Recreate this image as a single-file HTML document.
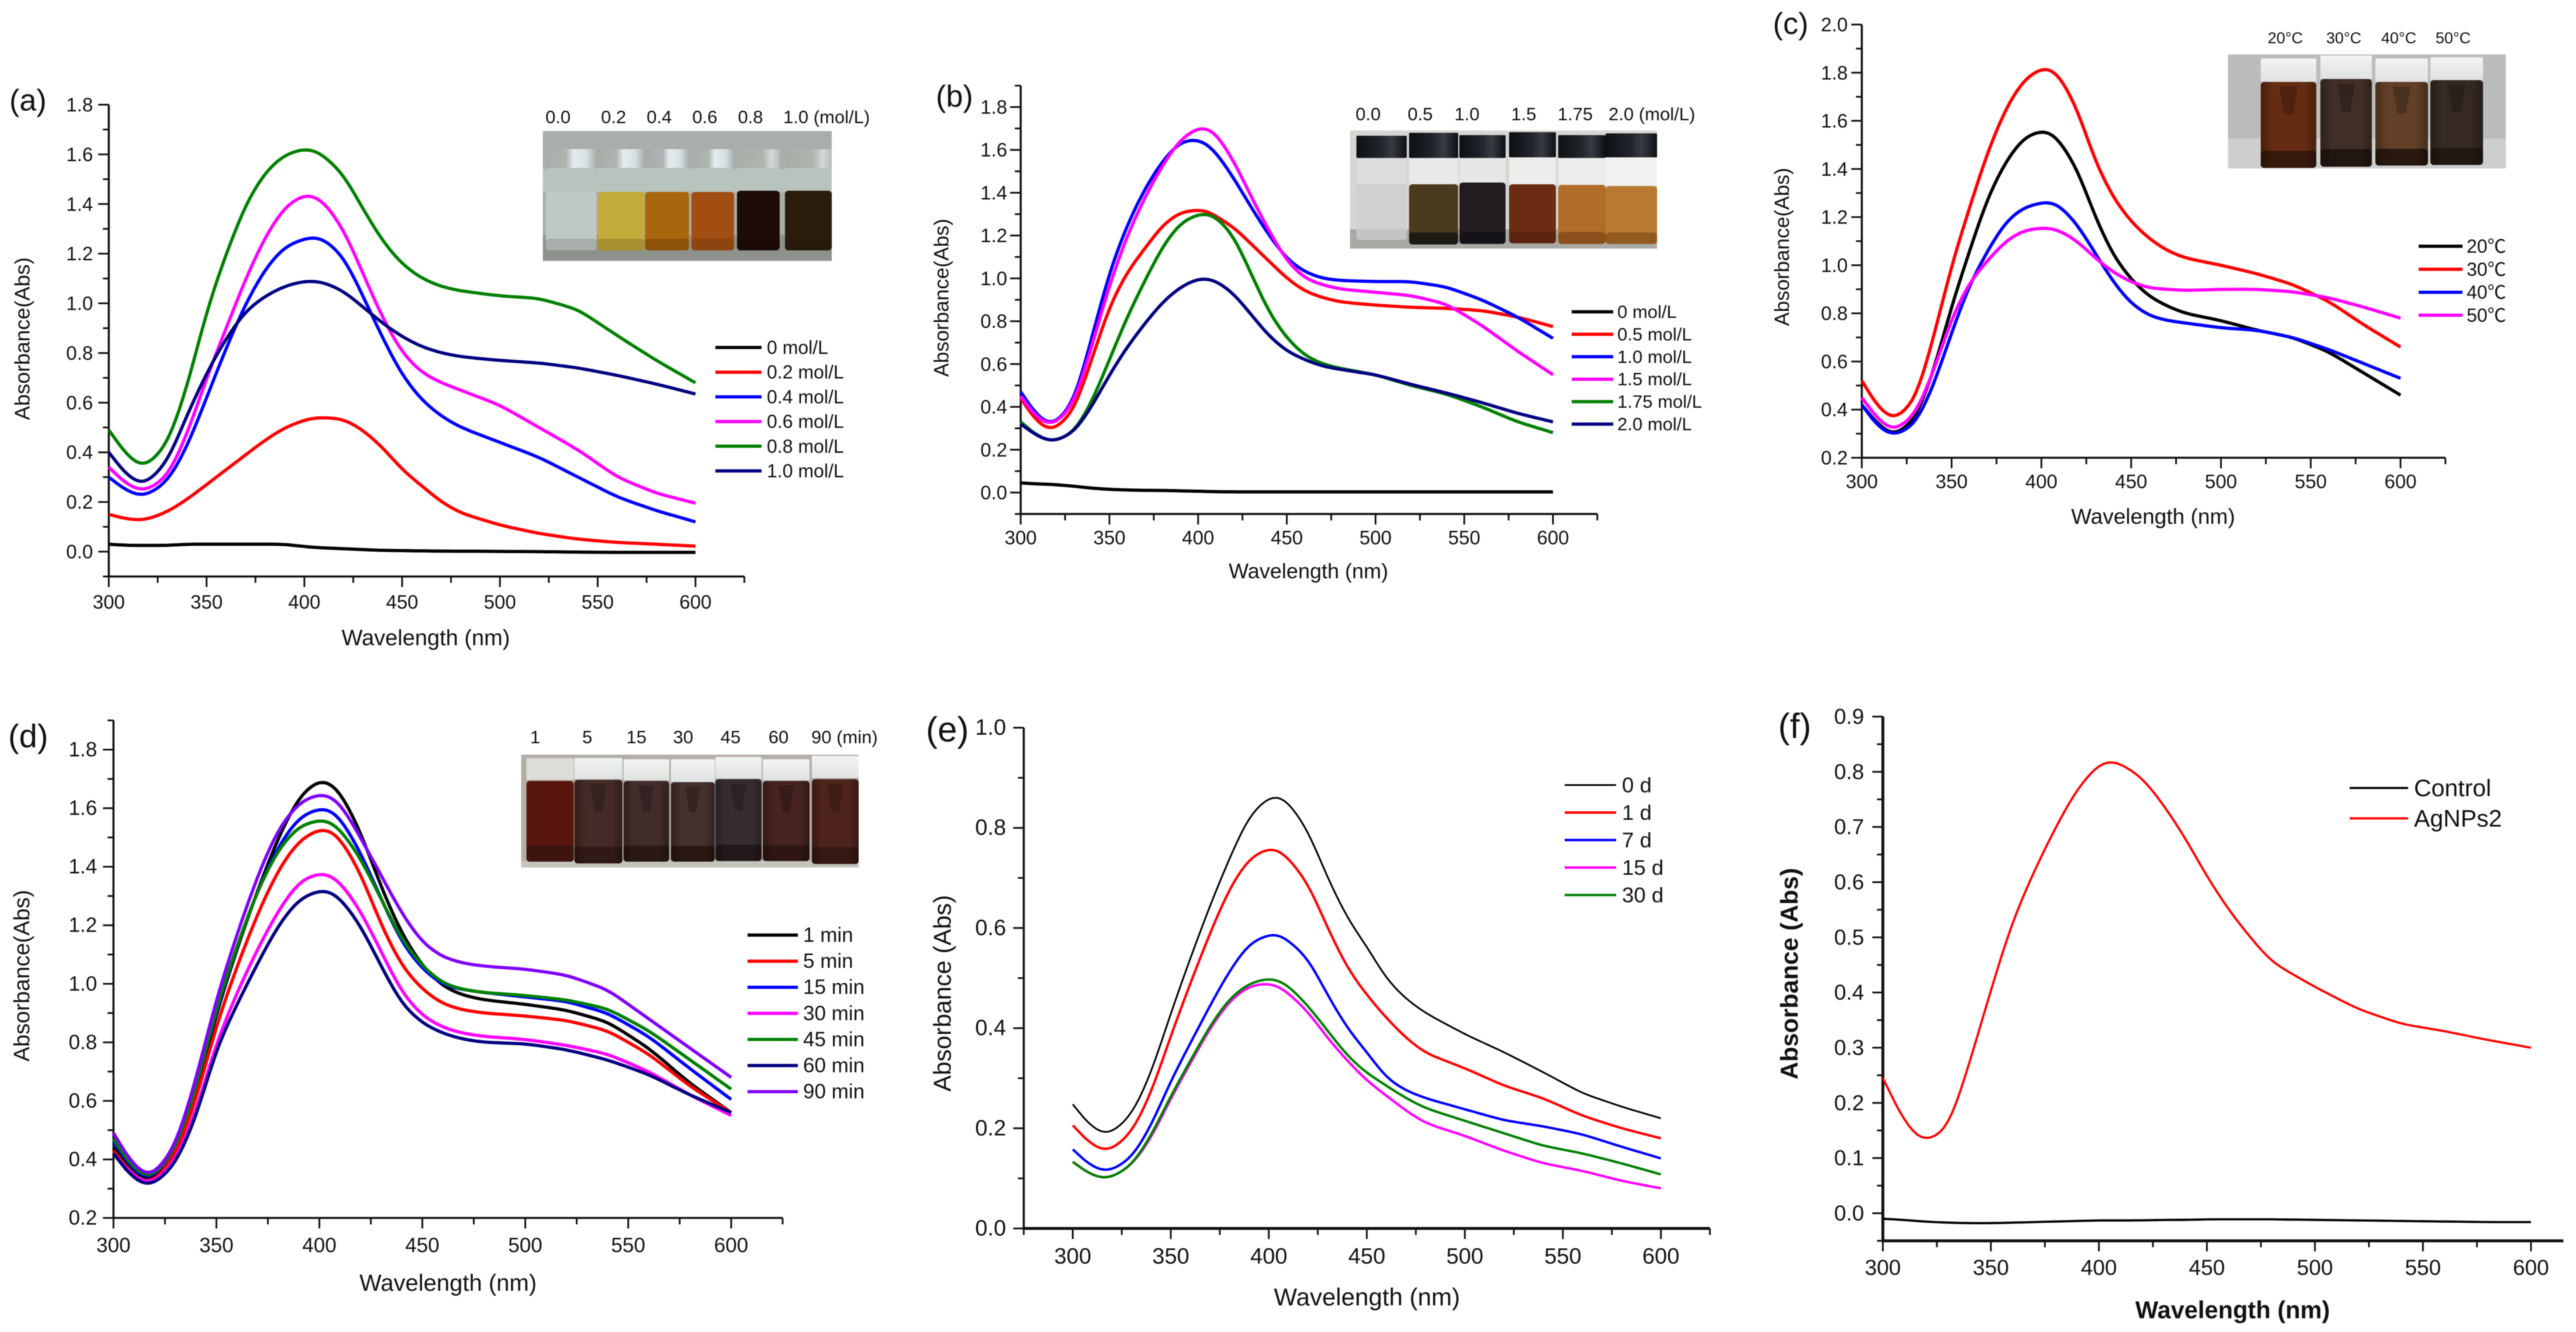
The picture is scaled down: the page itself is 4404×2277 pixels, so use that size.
<!DOCTYPE html>
<html lang="en">
<head>
<meta charset="utf-8">
<title>Absorbance spectra panels</title>
<style>
html,body{margin:0;padding:0;background:#fff;width:4404px;height:2277px;overflow:hidden}
svg{display:block;filter:blur(0.9px)}
text{font-family:"Liberation Sans","Noto Sans CJK SC",sans-serif;fill:#111}
.insetlabel{font-size:31px}
</style>
</head>
<body>
<svg id="figure" xmlns="http://www.w3.org/2000/svg" width="4404" height="2277" viewBox="0 0 4404 2277">
<defs>
<linearGradient id="capHighlight" x1="0" y1="0" x2="1" y2="0"><stop offset="0" stop-color="#a6aca8"/><stop offset=".4" stop-color="#aeb4b0"/><stop offset=".55" stop-color="#e4ecf0"/><stop offset=".8" stop-color="#d8e0e2"/><stop offset="1" stop-color="#a6aca8"/></linearGradient>
<linearGradient id="capDull" x1="0" y1="0" x2="1" y2="0"><stop offset="0" stop-color="#a8aca6"/><stop offset=".6" stop-color="#b0b4ae"/><stop offset=".8" stop-color="#d4d8d6"/><stop offset="1" stop-color="#b8bcb8"/></linearGradient>
<linearGradient id="capBlack" x1="0" y1="0" x2="1" y2="0"><stop offset="0" stop-color="#0c1014"/><stop offset=".5" stop-color="#22262c"/><stop offset=".7" stop-color="#383c42"/><stop offset="1" stop-color="#0c1014"/></linearGradient>
<linearGradient id="capWhite" x1="0" y1="0" x2="0" y2="1"><stop offset="0" stop-color="#f2f4f2"/><stop offset="1" stop-color="#dfe2e0"/></linearGradient>
<linearGradient id="sideShade" x1="0" y1="0" x2="1" y2="0"><stop offset="0" stop-color="#000" stop-opacity=".35"/><stop offset=".22" stop-color="#000" stop-opacity=".08"/><stop offset=".78" stop-color="#000" stop-opacity=".08"/><stop offset="1" stop-color="#000" stop-opacity=".35"/></linearGradient>
</defs>

<g id="insetA"></g>
<g id="insetB"></g>
<g id="insetC"></g>
<g id="insetD"></g>

<g>
<text class="insetlabel" x="954" y="200" text-anchor="middle" dominant-baseline="central">0.0</text>
<text class="insetlabel" x="1049" y="200" text-anchor="middle" dominant-baseline="central">0.2</text>
<text class="insetlabel" x="1127" y="200" text-anchor="middle" dominant-baseline="central">0.4</text>
<text class="insetlabel" x="1205" y="200" text-anchor="middle" dominant-baseline="central">0.6</text>
<text class="insetlabel" x="1283" y="200" text-anchor="middle" dominant-baseline="central">0.8</text>
<text class="insetlabel" x="1339" y="200" dominant-baseline="central">1.0 (mol/L)</text>
</g>
<g>
<text class="insetlabel" x="2339" y="195" text-anchor="middle" dominant-baseline="central">0.0</text>
<text class="insetlabel" x="2428" y="195" text-anchor="middle" dominant-baseline="central">0.5</text>
<text class="insetlabel" x="2508" y="195" text-anchor="middle" dominant-baseline="central">1.0</text>
<text class="insetlabel" x="2605" y="195" text-anchor="middle" dominant-baseline="central">1.5</text>
<text class="insetlabel" x="2693" y="195" text-anchor="middle" dominant-baseline="central">1.75</text>
<text class="insetlabel" x="2750" y="195" dominant-baseline="central">2.0 (mol/L)</text>
</g>
<g>
<text x="3907" y="65" font-size="27" text-anchor="middle" dominant-baseline="central">20°C</text>
<text x="4007" y="65" font-size="27" text-anchor="middle" dominant-baseline="central">30°C</text>
<text x="4101" y="65" font-size="27" text-anchor="middle" dominant-baseline="central">40°C</text>
<text x="4194" y="65" font-size="27" text-anchor="middle" dominant-baseline="central">50°C</text>
</g>
<g>
<text class="insetlabel" x="915" y="1260" text-anchor="middle" dominant-baseline="central">1</text>
<text class="insetlabel" x="1004" y="1260" text-anchor="middle" dominant-baseline="central">5</text>
<text class="insetlabel" x="1088" y="1260" text-anchor="middle" dominant-baseline="central">15</text>
<text class="insetlabel" x="1168" y="1260" text-anchor="middle" dominant-baseline="central">30</text>
<text class="insetlabel" x="1249" y="1260" text-anchor="middle" dominant-baseline="central">45</text>
<text class="insetlabel" x="1331" y="1260" text-anchor="middle" dominant-baseline="central">60</text>
<text class="insetlabel" x="1387" y="1260" dominant-baseline="central">90 (min)</text>
</g>
</svg>

<script>
// Shared sample wavelengths (nm) read for every curve
const wavelengths = [300,310,318,330,340,350,360,370,380,390,400,405,410,420,430,440,450,460,470,480,500,520,540,560,580,600];
const xTickLabels = [300,350,400,450,500,550,600];

// Panel (a)
const aLabels = ['0 mol/L','0.2 mol/L','0.4 mol/L','0.6 mol/L','0.8 mol/L','1.0 mol/L'];
const aYTicks = ['0.0','0.2','0.4','0.6','0.8','1.0','1.2','1.4','1.6','1.8'];
const a0 = [.03,.025,.025,.025,.03,.03,.03,.03,.03,.03,.02,.017,.015,.012,.008,.005,.004,.003,.002,.002,.001,0,-.002,-.003,-.003,-.003];
const a02 = [.15,.13,.125,.16,.21,.27,.33,.39,.45,.50,.53,.54,.54,.535,.49,.42,.33,.265,.20,.155,.107,.073,.05,.037,.03,.022];
const a04 = [.30,.24,.22,.28,.42,.62,.82,1.0,1.14,1.23,1.26,1.27,1.26,1.19,1.03,.86,.71,.61,.545,.50,.44,.38,.30,.22,.165,.12];
const a06 = [.34,.265,.24,.30,.47,.70,.90,1.10,1.27,1.39,1.44,1.435,1.41,1.30,1.12,.94,.80,.72,.68,.65,.59,.50,.41,.30,.235,.195];
const a08 = [.49,.38,.335,.43,.66,.97,1.2,1.40,1.53,1.60,1.623,1.62,1.595,1.52,1.38,1.25,1.157,1.10,1.067,1.05,1.03,1.02,.975,.87,.77,.68];
const a10 = [.40,.30,.265,.36,.55,.72,.86,.97,1.03,1.07,1.09,1.09,1.085,1.05,.985,.92,.865,.825,.80,.785,.77,.76,.74,.71,.675,.635];

// Panel (b)
const bLabels = ['0 mol/L','0.5 mol/L','1.0 mol/L','1.5 mol/L','1.75 mol/L','2.0 mol/L'];
const bYTicks = ['0.0','0.2','0.4','0.6','0.8','1.0','1.2','1.4','1.6','1.8'];
const b0 = [.045,.04,.038,.03,.02,.015,.012,.01,.01,.008,.006,.005,.004,.003,.003,.003,.003,.003,.003,.003,.003,.003,.003,.003,.003,.003];
const b05 = [.44,.32,.285,.38,.62,.87,1.03,1.14,1.25,1.31,1.32,1.32,1.29,1.24,1.16,1.08,1.0,.94,.91,.89,.875,.865,.86,.85,.82,.775];
const b10 = [.47,.35,.31,.42,.72,1.03,1.25,1.42,1.55,1.64,1.65,1.63,1.59,1.47,1.33,1.2,1.09,1.03,1.0,.99,.985,.985,.96,.90,.82,.72];
const b15 = [.45,.34,.31,.41,.68,.97,1.2,1.38,1.53,1.65,1.705,1.705,1.68,1.55,1.38,1.22,1.08,1.0,.97,.95,.935,.92,.88,.78,.66,.55];
const b175 = [.33,.26,.235,.28,.42,.62,.82,.99,1.15,1.26,1.3,1.305,1.29,1.2,1.02,.84,.72,.64,.6,.58,.55,.50,.46,.40,.33,.28];
const b20 = [.32,.26,.235,.28,.40,.55,.68,.79,.89,.96,1.0,1.0,.99,.93,.83,.73,.66,.62,.59,.575,.55,.505,.465,.42,.37,.33];

// Panel (c)
const cLabels = ['20℃','30℃','40℃','50℃'];
const cYTicks = ['0.2','0.4','0.6','0.8','1.0','1.2','1.4','1.6','1.8','2.0'];
const c20 = [.42,.33,.29,.36,.56,.83,1.06,1.28,1.43,1.53,1.56,1.555,1.52,1.40,1.20,1.04,.94,.87,.83,.80,.77,.73,.70,.64,.55,.46];
const c30 = [.52,.40,.355,.44,.70,1.0,1.24,1.47,1.65,1.77,1.82,1.82,1.79,1.65,1.43,1.28,1.18,1.11,1.06,1.03,1.0,.965,.92,.85,.75,.66];
const c40 = [.42,.32,.29,.34,.5,.72,.92,1.06,1.18,1.24,1.26,1.265,1.25,1.17,1.05,.93,.84,.79,.77,.76,.74,.73,.70,.65,.59,.53];
const c50 = [.45,.35,.31,.38,.56,.78,.93,1.02,1.10,1.145,1.155,1.155,1.145,1.10,1.03,.97,.93,.905,.90,.895,.90,.90,.89,.865,.825,.78];

// Panel (d)
const dLabels = ['1 min','5 min','15 min','30 min','45 min','60 min','90 min'];
const dYTicks = ['0.2','0.4','0.6','0.8','1.0','1.2','1.4','1.6','1.8'];
const d1 = [.44,.35,.32,.42,.63,.90,1.12,1.32,1.5,1.64,1.70,1.69,1.66,1.52,1.33,1.17,1.06,.99,.96,.945,.93,.91,.87,.78,.66,.56];
const d5 = [.43,.34,.31,.41,.60,.86,1.06,1.24,1.39,1.49,1.53,1.53,1.50,1.38,1.20,1.06,.98,.93,.91,.90,.89,.875,.84,.76,.65,.56];
const d15 = [.46,.36,.325,.43,.64,.91,1.13,1.32,1.47,1.57,1.6,1.6,1.57,1.45,1.29,1.14,1.05,.995,.98,.97,.955,.94,.90,.82,.71,.605];
const d30 = [.42,.34,.31,.39,.56,.80,.97,1.12,1.25,1.35,1.38,1.375,1.35,1.25,1.11,.97,.89,.85,.83,.82,.81,.79,.76,.70,.62,.55];
const d45 = [.47,.365,.33,.43,.64,.92,1.13,1.32,1.46,1.54,1.56,1.56,1.53,1.43,1.29,1.15,1.06,1.0,.98,.97,.96,.945,.915,.84,.74,.64];
const d60 = [.42,.33,.305,.38,.54,.78,.93,1.07,1.20,1.29,1.32,1.32,1.295,1.2,1.06,.93,.865,.83,.81,.80,.795,.775,.74,.69,.62,.56];
const d90 = [.49,.375,.335,.44,.67,.95,1.17,1.37,1.53,1.62,1.65,1.645,1.62,1.5,1.37,1.24,1.14,1.09,1.07,1.06,1.05,1.03,.98,.88,.78,.68];

// Panel (e)
const eLabels = ['0 d','1 d','7 d','15 d','30 d'];
const eYTicks = ['0.0','0.2','0.4','0.6','0.8','1.0'];
const e0 = [.248,.20,.185,.225,.31,.43,.54,.645,.74,.825,.862,.866,.852,.795,.70,.62,.563,.498,.458,.43,.388,.352,.312,.27,.243,.22];
const e1 = [.206,.165,.152,.19,.27,.385,.49,.59,.68,.74,.76,.758,.74,.69,.60,.52,.466,.42,.38,.35,.32,.285,.26,.225,.20,.18];
const e7 = [.158,.122,.112,.14,.205,.295,.37,.445,.515,.57,.587,.59,.575,.54,.466,.40,.352,.30,.275,.26,.238,.216,.204,.188,.163,.14];
const e15 = [.133,.105,.098,.125,.18,.26,.33,.40,.455,.485,.49,.485,.47,.433,.38,.335,.295,.265,.235,.21,.185,.155,.13,.115,.095,.08];
const e30 = [.133,.105,.098,.125,.185,.265,.335,.405,.46,.49,.50,.497,.485,.445,.395,.345,.31,.285,.26,.24,.215,.19,.165,.15,.13,.108];

// Panel (f)
const fLabels = ['Control','AgNPs2'];
const fYTicks = ['0.0','0.1','0.2','0.3','0.4','0.5','0.6','0.7','0.8','0.9'];
const fControl = [-.01,-.012,-.015,-.017,-.018,-.018,-.017,-.016,-.015,-.014,-.013,-.013,-.013,-.013,-.012,-.012,-.011,-.011,-.011,-.011,-.012,-.013,-.014,-.015,-.016,-.016];
const fAgNPs = [.245,.165,.128,.15,.27,.405,.53,.62,.70,.77,.815,.822,.815,.79,.74,.68,.61,.55,.50,.455,.41,.37,.343,.33,.314,.30];

const cBlack='#000', cRed='#ff0000', cBlue='#0000ff', cMag='#ff00ff', cGreen='#008000', cNavy='#000080', cPurple='#8000ff';

const panels = [
 {id:'a',letter:'(a)',letterX:16,letterY:172,letterSize:52,letterWeight:400,
  x0:186,x600:1189,xMin:300,xMax:625,y0v:0,y0:943,y1v:1.8,y1:179,yMin:-.1,yMax:1.8,yStep:.2,
  yTicks:aYTicks,yLabelRight:159,xTickY:1029,tickSize:33,
  xTitle:'Wavelength (nm)',xTitleX:728,xTitleY:1091,xTitleSize:38,
  yTitle:'Absorbance(Abs)',yTitleX:38,yTitleY:579,yTitleSize:36,titleWeight:400,
  series:[a0,a02,a04,a06,a08,a10],labels:aLabels,colors:[cBlack,cRed,cBlue,cMag,cGreen,cNavy],lw:5.5,
  legendX0:1223,legendX1:1302,legendTextX:1311,legendTop:594,legendGap:42.2,legendSize:32},
 {id:'b',letter:'(b)',letterX:1600,letterY:165,letterSize:52,letterWeight:400,
  x0:1745,x600:2655,xMin:300,xMax:625,y0v:0,y0:842,y1v:1.8,y1:183,yMin:-.1,yMax:1.9,yStep:.2,
  yTicks:bYTicks,yLabelRight:1722,xTickY:919,tickSize:33,
  xTitle:'Wavelength (nm)',xTitleX:2237,xTitleY:976,xTitleSize:36,
  yTitle:'Absorbance(Abs)',yTitleX:1610,yTitleY:509,yTitleSize:35,titleWeight:400,
  series:[b0,b05,b10,b15,b175,b20],labels:bLabels,colors:[cBlack,cRed,cBlue,cMag,cGreen,cNavy],lw:5.5,
  legendX0:2687,legendX1:2758,legendTextX:2765,legendTop:533,legendGap:38.4,legendSize:31},
 {id:'c',letter:'(c)',letterX:3031,letterY:41,letterSize:52,letterWeight:400,
  x0:3183,x600:4104,xMin:300,xMax:625,y0v:.2,y0:782.5,y1v:2.0,y1:42,yMin:.2,yMax:2.0,yStep:.2,
  yTicks:cYTicks,yLabelRight:3159,xTickY:823,tickSize:33,
  xTitle:'Wavelength (nm)',xTitleX:3681,xTitleY:883,xTitleSize:37,
  yTitle:'Absorbance(Abs)',yTitleX:3047,yTitleY:422,yTitleSize:35,titleWeight:400,
  series:[c20,c30,c40,c50],labels:cLabels,colors:[cBlack,cRed,cBlue,cMag],lw:5.5,
  legendX0:4135,legendX1:4210,legendTextX:4217,legendTop:421,legendGap:39.3,legendSize:32},
 {id:'d',letter:'(d)',letterX:14,letterY:1258,letterSize:56,letterWeight:400,
  x0:194,x600:1250,xMin:300,xMax:625,y0v:.2,y0:2082,y1v:1.8,y1:1281.5,yMin:.2,yMax:1.9,yStep:.2,
  yTicks:dYTicks,yLabelRight:166,xTickY:2129,tickSize:35,
  xTitle:'Wavelength (nm)',xTitleX:766,xTitleY:2193.5,xTitleSize:40,
  yTitle:'Absorbance(Abs)',yTitleX:38,yTitleY:1668,yTitleSize:38,titleWeight:400,
  series:[d1,d5,d15,d30,d45,d60,d90],labels:dLabels,colors:[cBlack,cRed,cBlue,cMag,cGreen,cNavy,cPurple],lw:5.5,
  legendX0:1278,legendX1:1364,legendTextX:1373,legendTop:1598.5,legendGap:44.6,legendSize:35},
 {id:'e',letter:'(e)',letterX:1583,letterY:1247,letterSize:60,letterWeight:400,
  x0:1834,x600:2839.5,xMin:275,xMax:625,y0v:0,y0:2100,y1v:1,y1:1244,yMin:0,yMax:1,yStep:.2,
  yTicks:eYTicks,yLabelRight:1720,xTickY:2148,tickSize:38,
  xTitle:'Wavelength (nm)',xTitleX:2337,xTitleY:2217,xTitleSize:42,
  yTitle:'Absorbance (Abs)',yTitleX:1611,yTitleY:1698,yTitleSize:42,titleWeight:400,
  series:[e0,e1,e7,e15,e30],labels:eLabels,colors:[cBlack,cRed,cBlue,cMag,cGreen],lw:4.2,firstLw:3,
  legendX0:2675,legendX1:2763,legendTextX:2773,legendTop:1342,legendGap:47,legendSize:36.5,xAxisWidth:5},
 {id:'f',letter:'(f)',letterX:3040,letterY:1241,letterSize:60,letterWeight:400,
  x0:3219,x600:4327,xMin:300,xMax:615,y0v:0,y0:2074,y1v:.9,y1:1225,yMin:-.05,yMax:.9,yStep:.1,
  yTicks:fYTicks,yLabelRight:3187,xTickY:2167,tickSize:37,
  xTitle:'Wavelength (nm)',xTitleX:3817,xTitleY:2239,xTitleSize:41.5,
  yTitle:'Absorbance (Abs)',yTitleX:3059,yTitleY:1664.5,yTitleSize:42,titleWeight:700,
  series:[fControl,fAgNPs],labels:fLabels,colors:[cBlack,cRed],lw:3.8,
  legendX0:4017,legendX1:4117,legendTextX:4127,legendTop:1347,legendGap:52,legendSize:41,xAxisWidth:5}
];

const SVGNS='http://www.w3.org/2000/svg';
const figure=document.getElementById('figure');

function linearScale(d0,d1,r0,r1){
  return function(v){return r0+(v-d0)*(r1-r0)/(d1-d0);};
}
function make(parent,tag,attrs,text){
  const el=document.createElementNS(SVGNS,tag);
  for(const k in attrs){el.setAttribute(k,attrs[k]);}
  if(text!==undefined){el.textContent=text;}
  parent.appendChild(el);
  return el;
}

// Inset photo pieces
function photoBack(parent,x,y,w,h,fill,floorY,floorFill){
  make(parent,'rect',{x:x,y:y,width:w,height:h,fill:fill});
  make(parent,'rect',{x:x,y:floorY,width:w,height:y+h-floorY,fill:floorFill});
}
function drawVial(parent,name,x,w,capTop,capBottom,capFill,neckFill,liquidTop,liquidBottom,liquidFill,baseFill,shade){
  const g=make(parent,'g',{});
  
  
  make(g,'rect',{x:x,y:capBottom,width:w,height:Math.max(0,liquidTop-capBottom),fill:neckFill});
  make(g,'rect',{x:x,y:liquidTop,width:w,height:liquidBottom-liquidTop,fill:liquidFill,rx:6});
  make(g,'rect',{x:x,y:liquidBottom-(liquidBottom-liquidTop)*0.2,width:w,height:(liquidBottom-liquidTop)*0.2,fill:baseFill,rx:6});
  if(shade){
    make(g,'rect',{x:x,y:liquidTop,width:w,height:liquidBottom-liquidTop,fill:'url(#sideShade)',rx:6});
    make(g,'path',{d:'M'+(x+w*.33)+' '+(liquidTop+8)+' L'+(x+w*.67)+' '+(liquidTop+8)+' L'+(x+w*.58)+' '+(liquidTop+(liquidBottom-liquidTop)*.38)+' L'+(x+w*.42)+' '+(liquidTop+(liquidBottom-liquidTop)*.38)+' Z',fill:'#000','fill-opacity':.22});
  }
  make(g,'rect',{x:x,y:capTop,width:w,height:capBottom-capTop,fill:capFill,rx:2});
}

const insetA=document.getElementById('insetA');
photoBack(insetA,928,224,494,222,'#a8aeaa',402,'#8e928c');
make(insetA,'rect',{x:928,y:290,width:494,height:38,fill:'#b9c3be'});
drawVial(insetA,'vial-0-0',933,87,255,287,'url(#capHighlight)','#b9c3be',328,428,'#c0c8c4','#a8aeaa',false);
drawVial(insetA,'vial-0-2',1022,80,255,287,'url(#capHighlight)','#b9c3be',328,428,'#c4ac3c','#a89030',false);
drawVial(insetA,'vial-0-4',1103,75,255,287,'url(#capHighlight)','#b9c3be',328,428,'#a8660e','#8e5208',false);
drawVial(insetA,'vial-0-6',1182,73,255,287,'url(#capHighlight)','#b9c3be',328,428,'#a24e12','#8e4410',false);
drawVial(insetA,'vial-0-8',1260,73,255,287,'url(#capDull)','#b9c3be',326,428,'#1e0c08','#1c0a06',false);
drawVial(insetA,'vial-1-0',1342,80,255,287,'url(#capDull)','#b9c3be',326,428,'#2a1c0c','#281a0c',false);

const insetB=document.getElementById('insetB');
photoBack(insetB,2308,223,525,202,'#d6d6d2',392,'#a8a8a4');
drawVial(insetB,'vial-b-0-0',2319,86,232,270,'url(#capBlack)','#dcdcdc',315,410,'#d0d0d0','#c4c4c4',false);
drawVial(insetB,'vial-b-0-5',2409,84,227,270,'url(#capBlack)','#e8eae8',315,418,'#4a3a1e','#1c1a12',false);
drawVial(insetB,'vial-b-1-0',2495,79,231,270,'url(#capBlack)','#e6e8e6',312,417,'#221c20','#15131a',false);
drawVial(insetB,'vial-b-1-5',2580,80,226,269,'url(#capBlack)','#ecedec',315,416,'#6c2c14','#5c2410',false);
drawVial(insetB,'vial-b-1-75',2664,81,231,270,'url(#capBlack)','#eceeec',316,417,'#b06c28','#8a4f1a',false);
drawVial(insetB,'vial-b-2-0',2745,88,228,269,'url(#capBlack)','#f2f2f0',318,417,'#b87a30','#92591e',false);

const insetC=document.getElementById('insetC');
photoBack(insetC,3809,93,475,195,'#bcbcbc',237,'#cecece');
drawVial(insetC,'vial-c-20',3865,95,100,140,'url(#capWhite)','#dcdcdc',140,287,'#6e3014','#3c1c0c',true);
drawVial(insetC,'vial-c-30',3967,88,95,135,'url(#capWhite)','#dcdcdc',135,285,'#453329','#241812',true);
drawVial(insetC,'vial-c-40',4061,90,100,140,'url(#capWhite)','#dcdcdc',140,283,'#69452a','#2c1a10',true);
drawVial(insetC,'vial-c-50',4155,90,98,137,'url(#capWhite)','#dcdcdc',137,282,'#3a2c26','#241a14',true);

const insetD=document.getElementById('insetD');
photoBack(insetD,891,1290,577,193,'#b5aea8',1472,'#c4c4bc');
drawVial(insetD,'vial-d-1',900,81,1296,1333,'#dcdcd8','#b5aea8',1335,1473,'#58160e','#3e1410',false);
drawVial(insetD,'vial-d-5',982,82,1296,1332,'url(#capWhite)','#b5aea8',1333,1476,'#4a2e2a','#351c18',true);
drawVial(insetD,'vial-d-15',1066,78,1298,1334,'url(#capWhite)','#b5aea8',1335,1473,'#46302e','#2e1a16',true);
drawVial(insetD,'vial-d-30',1147,75,1298,1337,'url(#capWhite)','#b5aea8',1337,1473,'#4a3430','#2e1a16',true);
drawVial(insetD,'vial-d-45',1223,79,1294,1331,'url(#capWhite)','#b5aea8',1332,1472,'#3a3034','#261a1c',true);
drawVial(insetD,'vial-d-60',1304,80,1298,1334,'url(#capWhite)','#b5aea8',1335,1472,'#4c2622','#331814',true);
drawVial(insetD,'vial-d-90',1388,80,1292,1330,'url(#capWhite)','#b5aea8',1332,1477,'#56261f','#3a1a16',true);

// Curve path: read values joined, then lightly smoothed in wavelength
function interpolateAt(xs,ys,x){
  let i=0;
  while(i<xs.length-2 && x>xs[i+1]){i++;}
  return ys[i]+(ys[i+1]-ys[i])*(x-xs[i])/(xs[i+1]-xs[i]);
}
function smoothCurve(xs,ys,sigma,radius){
  const pts=[];
  const start=xs[0], end=xs[xs.length-1];
  for(let x=start;x<=end;x+=2){
    const r=Math.min(radius,x-start,end-x);
    let sum=0,weight=0;
    for(let dx=-r;dx<=r;dx+=1){
      const w=Math.exp(-dx*dx/(2*sigma*sigma));
      sum+=w*interpolateAt(xs,ys,x+dx);
      weight+=w;
    }
    pts.push([x,sum/weight]);
  }
  return pts;
}

panels.forEach(function(p){
  const xScale=linearScale(300,600,p.x0,p.x600);
  const yScale=linearScale(p.y0v,p.y1v,p.y0,p.y1);
  const axisColor='#111';
  const g=make(figure,'g',{});
  
  

  const letter=make(g,'text',{x:p.letterX,y:p.letterY,'font-size':p.letterSize,'font-weight':p.letterWeight,'dominant-baseline':'central'},p.letter);
  
  

  // axes
  const xLeft=xScale(p.xMin), xRight=xScale(p.xMax);
  const yBottom=yScale(p.yMin), yTop=yScale(p.yMax);
  const yAxis=make(g,'line',{x1:xLeft,x2:xLeft,y1:yBottom,y2:yTop,stroke:axisColor,'stroke-width':p.id==='f'?5:3.5});
  
  
  const xAxis=make(g,'line',{x1:xLeft-2,x2:xRight,y1:yBottom,y2:yBottom,stroke:axisColor,'stroke-width':p.xAxisWidth||3.5});
  
  

  // x ticks every 25 nm, major ticks match the label list
  for(let v=p.xMin;v<=p.xMax;v+=25){
    const isMajor=xTickLabels.indexOf(v)>=0;
    const tick=make(g,'line',{x1:xScale(v),x2:xScale(v),y1:yBottom,y2:yBottom+(isMajor?18:11),stroke:axisColor,'stroke-width':3});
    
    
  }
  xTickLabels.forEach(function(v){
    const t=make(g,'text',{x:xScale(v),y:p.xTickY,'font-size':p.tickSize,'text-anchor':'middle','dominant-baseline':'central'},String(v));
    
    
  });

  // y ticks: major from label list, minor halfway between
  const yMinorStep=p.yStep/2;
  const nSteps=Math.round((p.yMax-p.yMin)/yMinorStep);
  for(let i=0;i<=nSteps;i++){
    const v=p.yMin+i*yMinorStep;
    const isMajor=p.yTicks.indexOf(v.toFixed(1))>=0 && Math.abs(parseFloat(v.toFixed(1))-v)<1e-6;
    const tick=make(g,'line',{x1:xLeft,x2:xLeft-(isMajor?18:10),y1:yScale(v),y2:yScale(v),stroke:axisColor,'stroke-width':3});
    
    
  }
  p.yTicks.forEach(function(label){
    const t=make(g,'text',{x:p.yLabelRight,y:yScale(parseFloat(label)),'font-size':p.tickSize,'text-anchor':'end','dominant-baseline':'central'},label);
    
    
  });

  // titles
  const xt=make(g,'text',{x:p.xTitleX,y:p.xTitleY,'font-size':p.xTitleSize,'font-weight':p.titleWeight,'text-anchor':'middle','dominant-baseline':'central'},p.xTitle);
  
  
  const yt=make(g,'text',{x:p.yTitleX,y:p.yTitleY,'font-size':p.yTitleSize,'font-weight':p.titleWeight,'text-anchor':'middle','dominant-baseline':'central',transform:'rotate(-90 '+p.yTitleX+' '+p.yTitleY+')'},p.yTitle);
  
  

  // series
  p.series.forEach(function(values,i){
    const pts=smoothCurve(wavelengths,values,4,10);
    const d=pts.map(function(q,k){return (k?'L':'M')+xScale(q[0]).toFixed(1)+' '+yScale(q[1]).toFixed(1);}).join(' ');
    const lw=(i===0&&p.firstLw)?p.firstLw:p.lw;
    const path=make(g,'path',{d:d,fill:'none',stroke:p.colors[i],'stroke-width':lw,'stroke-linejoin':'round'});
    
    
  });

  // legend
  p.labels.forEach(function(label,i){
    const ly=p.legendTop+i*p.legendGap;
    const lw=(i===0&&p.firstLw)?p.firstLw:p.lw;
    const swatch=make(g,'line',{x1:p.legendX0,x2:p.legendX1,y1:ly,y2:ly,stroke:p.colors[i],'stroke-width':lw});
    
    
    const txt=make(g,'text',{x:p.legendTextX,y:ly,'font-size':p.legendSize,'dominant-baseline':'central'},label);
    
    
  });
});
</script>
</body>
</html>
